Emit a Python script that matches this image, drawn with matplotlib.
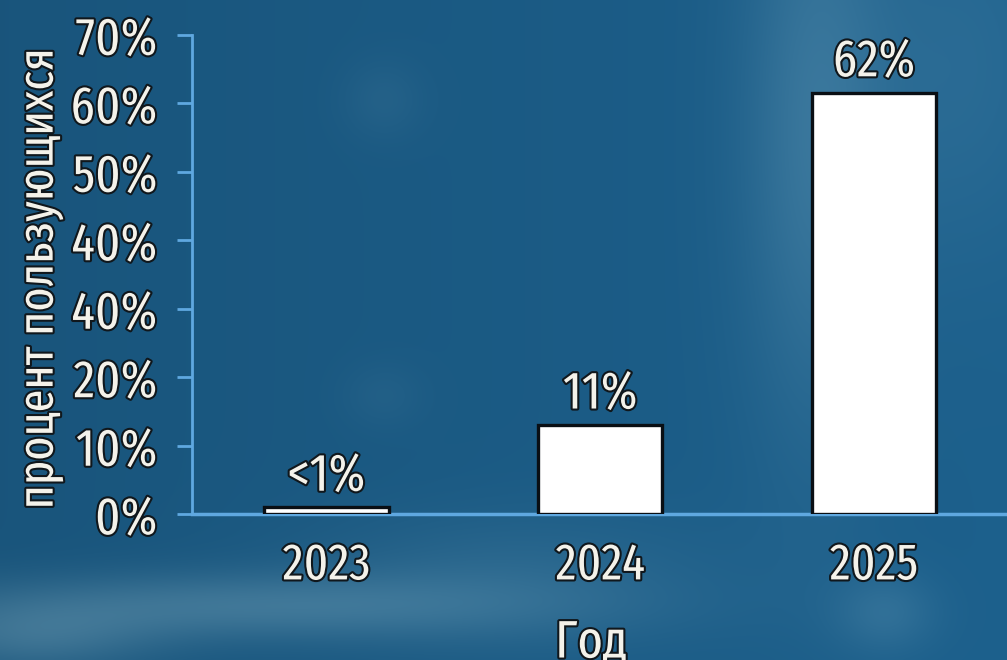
import numpy as np
import matplotlib
matplotlib.use("Agg")
from matplotlib import pyplot as plt
import matplotlib.patheffects as pe

# данные
years = ["2023", "2024", "2025"]
bar_values = [1.0, 13.0, 61.5]
bar_labels = ["<1%", "11%", "62%"]
ytick_pos = [0, 10, 20, 30, 40, 50, 60, 70]
ytick_labels = ["0%", "10%", "20%", "40%", "40%", "50%", "60%", "70%"]

plt.rcParams['font.family'] = ['Fira Sans Extra Condensed', 'Carlito', 'DejaVu Sans']

fig = plt.figure(figsize=(10.07, 6.60), dpi=100)

# фон: синий градиент с размытыми пятнами
bg = fig.add_axes([0, 0, 1, 1])
h, w = 330, 504
yy, xx = np.mgrid[0:1:h*1j, 0:1:w*1j]
base = np.array([0.11, 0.37, 0.54])
light = np.array([0.36, 0.58, 0.70])
img = np.ones((h, w, 3)) * base

def blob(cx, cy, sx, sy, a):
    g = np.exp(-(((xx - cx) / sx) ** 2 + ((yy - cy) / sy) ** 2))
    return a * g

mix = (blob(0.81, 0.2, 0.07, 0.45, 0.45) + blob(0.95, 0.1, 0.1, 0.3, 0.2)
       + blob(0.22, 0.92, 0.30, 0.05, 0.6) + blob(0.03, 0.97, 0.12, 0.05, 0.5)
       + blob(0.5, 0.88, 0.2, 0.1, 0.25) + blob(0.38, 0.15, 0.04, 0.06, 0.15)
       + blob(0.88, 0.93, 0.05, 0.06, 0.3) + blob(0.38, 0.6, 0.04, 0.05, 0.12))
mix = np.clip(mix, 0, 1)[..., None]
img = img * (1 - mix) + light * mix
img = img * (0.9 + 0.12 * xx[..., None])
bg.imshow(np.clip(img, 0, 1), aspect='auto', extent=[0, 1, 0, 1], origin='upper', interpolation='bicubic')
bg.axis('off')

ax = fig.add_axes([0.1907, 0.2212, 0.8093, 0.7265])
ax.patch.set_alpha(0)

x = np.arange(len(years))
ax.bar(x, bar_values, width=0.455, color='white', edgecolor='#0a0f14', linewidth=2.4, zorder=3)

txt_col = '#f4f2ea'
stroke = [pe.withStroke(linewidth=3, foreground='#10171c')]
for xi, v, lab in zip(x, bar_values, bar_labels):
    ax.text(xi, v + 2.4, lab, ha='center', va='baseline', fontsize=38,
            color=txt_col, path_effects=stroke)

ax.set_xlim(-0.491, 2.486)
ax.set_ylim(0, 70)
ax.set_yticks(ytick_pos)
ax.set_yticklabels(ytick_labels)
ax.set_xticks(x)
ax.set_xticklabels(years)

spine_col = '#5fa8e0'
for s in ['top', 'right']:
    ax.spines[s].set_visible(False)
ax.spines['left'].set_color(spine_col)
ax.spines['bottom'].set_color(spine_col)
ax.spines['left'].set_linewidth(2)
ax.spines['bottom'].set_linewidth(2.5)
ax.tick_params(axis='y', colors=spine_col, length=11, width=2, labelcolor=txt_col,
               labelsize=38, pad=14)
ax.tick_params(axis='x', length=0, labelcolor=txt_col, labelsize=37, pad=19)
for t in ax.get_yticklabels() + ax.get_xticklabels():
    t.set_path_effects(stroke)

ax.set_ylabel("процент пользующихся", fontsize=36, color=txt_col, path_effects=stroke)
ax.yaxis.set_label_coords(-0.158, 0.49)
ax.set_xlabel("Год", fontsize=38, color=txt_col, path_effects=stroke)
ax.xaxis.set_label_coords(0.49, -0.215)

fig.savefig("out.png", dpi=100)
